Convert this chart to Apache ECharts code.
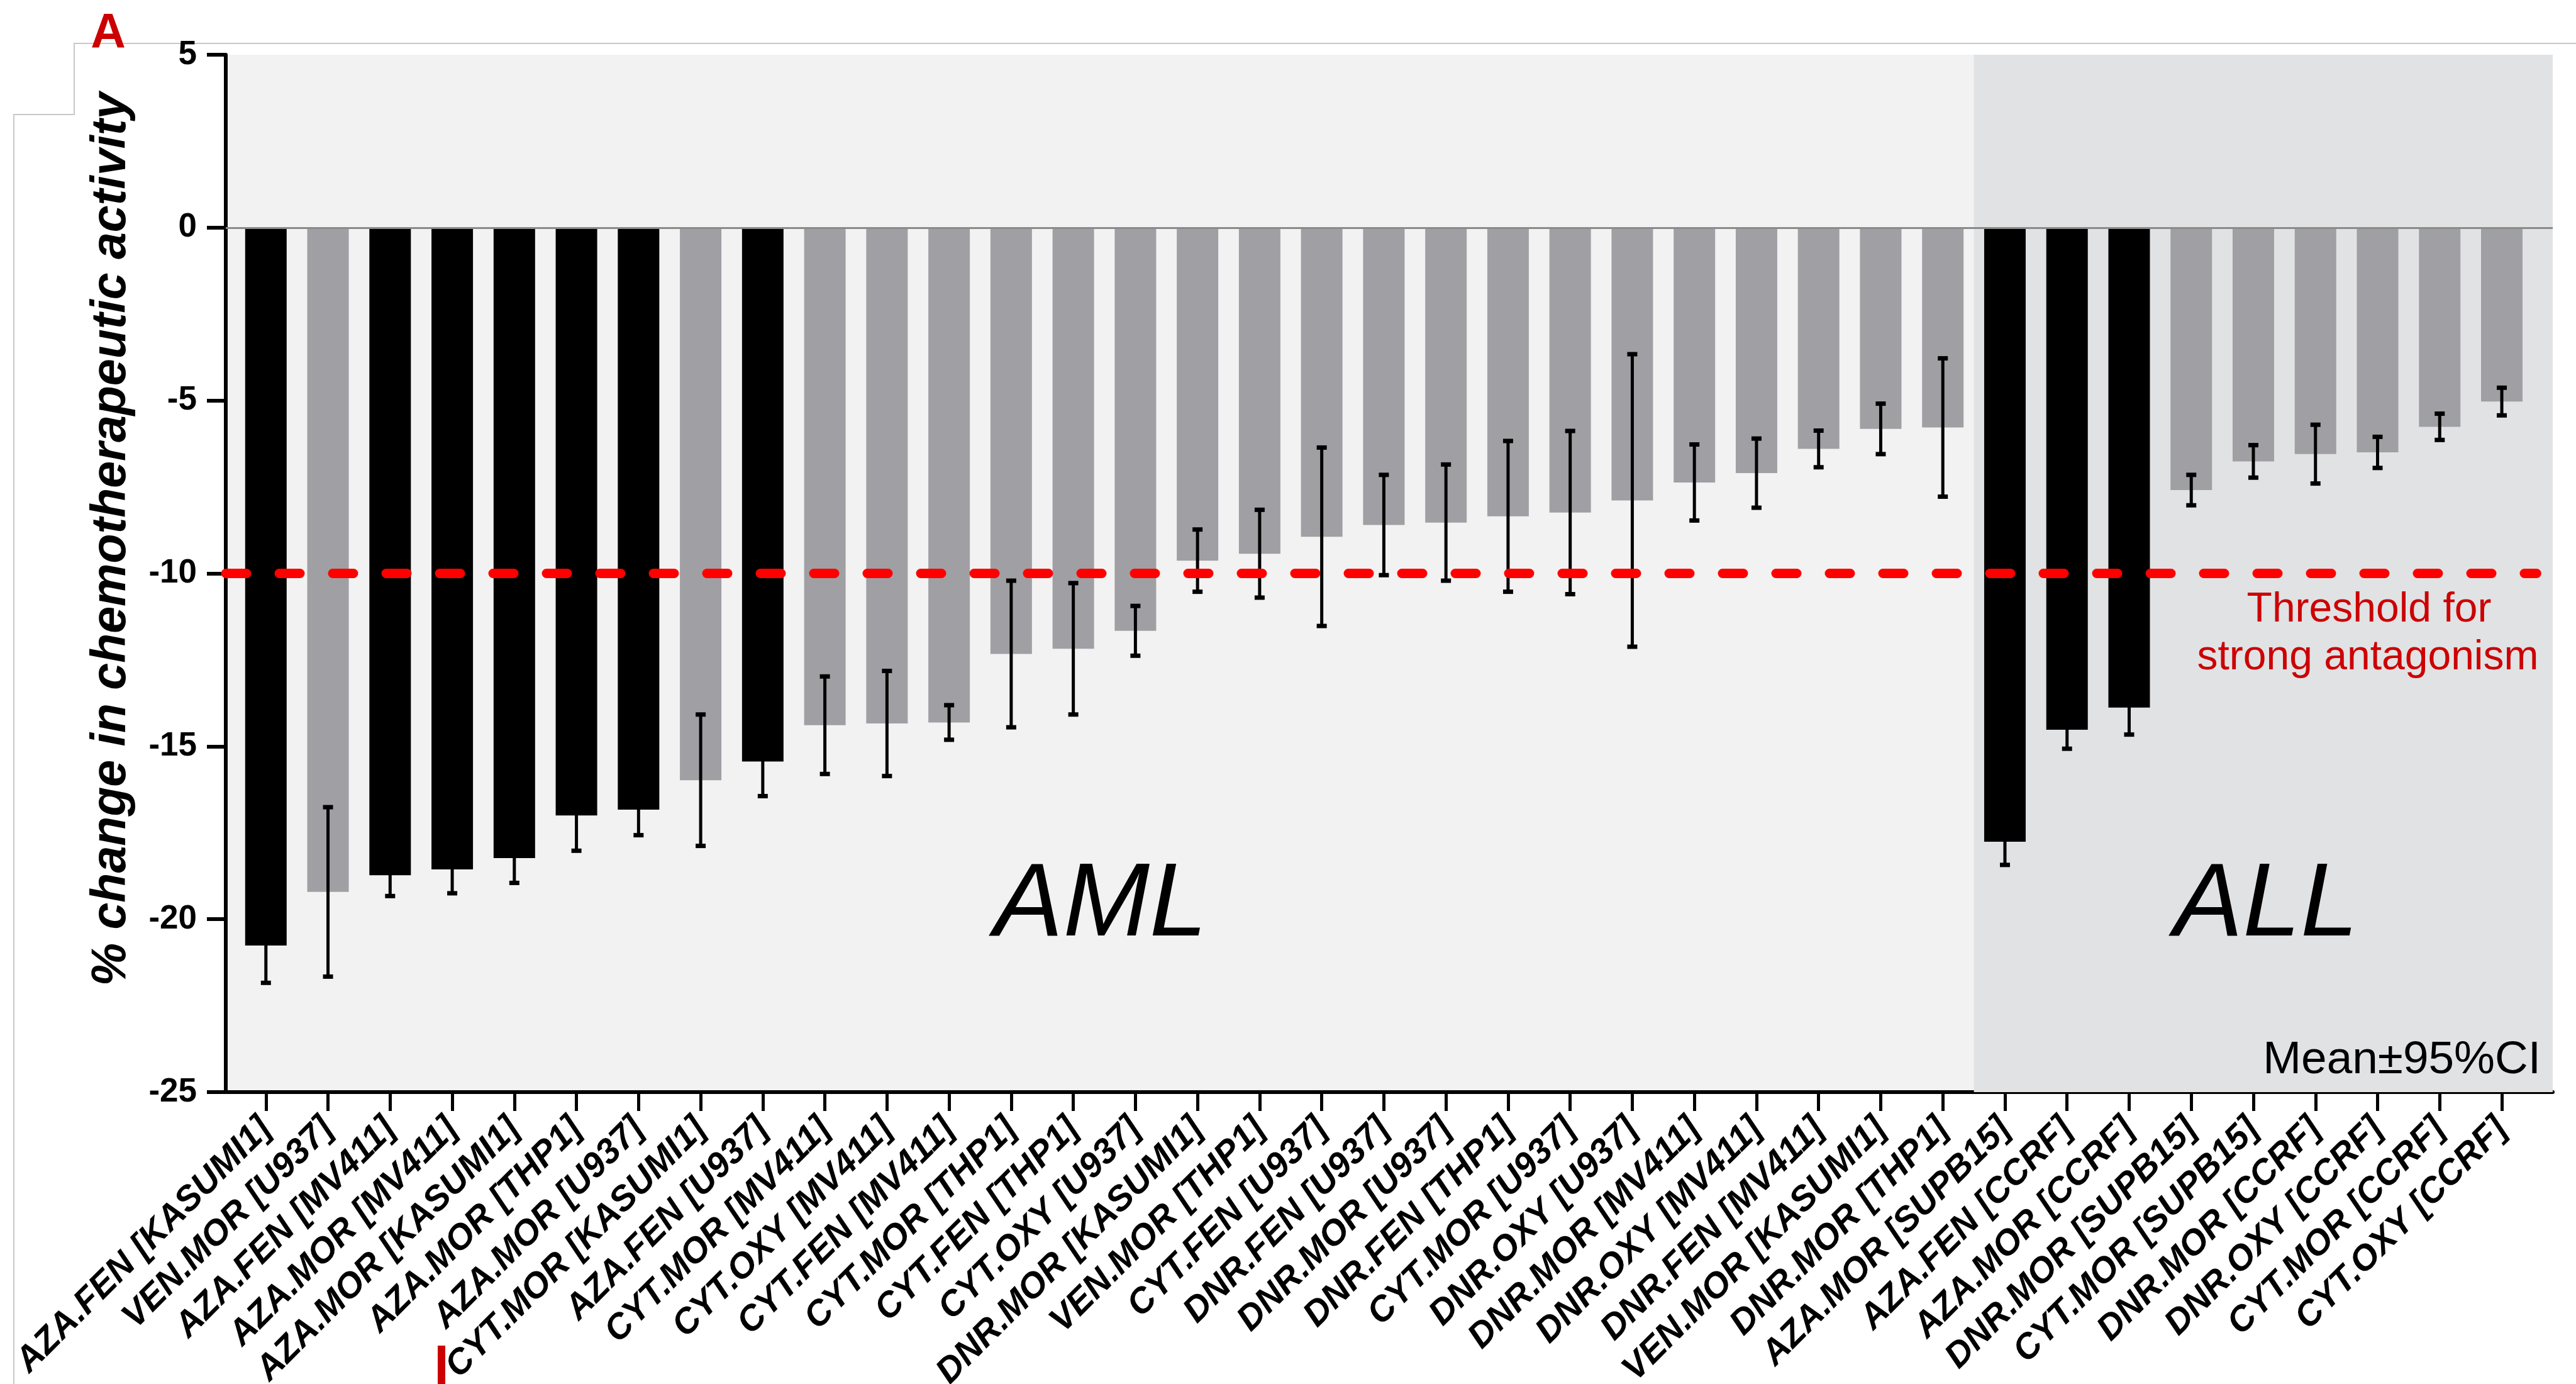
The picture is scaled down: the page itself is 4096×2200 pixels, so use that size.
<!DOCTYPE html>
<html lang="en">

<head>
  <meta charset="UTF-8">
  <title>% change in chemotherapeutic activity</title>
  <style>
    * {
      margin: 0;
      padding: 0;
    }

    body {
      background: #fff;
    }

    #main {
      width: 4096px;
      height: 2200px;
    }
  </style>
</head>

<body>
  <div id="main"></div>
  <script src="https://cdn.jsdelivr.net/npm/echarts@6/dist/echarts.min.js"></script>
  <script>
    // drug combination [cell line]
    const categories = [
      'AZA.FEN [KASUMI1]', 'VEN.MOR [U937]', 'AZA.FEN [MV411]', 'AZA.MOR [MV411]', 'AZA.MOR [KASUMI1]',
      'AZA.MOR [THP1]', 'AZA.MOR [U937]', 'CYT.MOR [KASUMI1]', 'AZA.FEN [U937]', 'CYT.MOR [MV411]',
      'CYT.OXY [MV411]', 'CYT.FEN [MV411]', 'CYT.MOR [THP1]', 'CYT.FEN [THP1]', 'CYT.OXY [U937]',
      'DNR.MOR [KASUMI1]', 'VEN.MOR [THP1]', 'CYT.FEN [U937]', 'DNR.FEN [U937]', 'DNR.MOR [U937]',
      'DNR.FEN [THP1]', 'CYT.MOR [U937]', 'DNR.OXY [U937]', 'DNR.MOR [MV411]', 'DNR.OXY [MV411]',
      'DNR.FEN [MV411]', 'VEN.MOR [KASUMI1]', 'DNR.MOR [THP1]',
      'AZA.MOR [SUPB15]', 'AZA.FEN [CCRF]', 'AZA.MOR [CCRF]', 'DNR.MOR [SUPB15]', 'CYT.MOR [SUPB15]',
      'DNR.MOR [CCRF]', 'DNR.OXY [CCRF]', 'CYT.MOR [CCRF]', 'CYT.OXY [CCRF]'
    ]
    // mean % change
    const means = [
      -20.76, -19.21, -18.73, -18.56, -18.23, -17.00, -16.83, -15.98, -15.44, -14.39,
      -14.34, -14.31, -12.33, -12.18, -11.66, -9.63, -9.43, -8.94, -8.60, -8.53,
      -8.35, -8.24, -7.89, -7.37, -7.10, -6.40, -5.82, -5.78,
      -17.76, -14.52, -13.88, -7.59, -6.76, -6.55, -6.50, -5.76, -5.03
    ]
    // half width of the 95% CI
    const ci95 = [
      1.08, 2.45, 0.60, 0.69, 0.72, 1.02, 0.74, 1.90, 1.00, 1.41,
      1.52, 0.50, 2.12, 1.90, 0.72, 0.90, 1.27, 2.58, 1.45, 1.68,
      2.18, 2.36, 4.23, 1.10, 1.00, 0.53, 0.73, 2.00,
      0.67, 0.55, 0.78, 0.44, 0.47, 0.85, 0.45, 0.38, 0.40
    ]
    const allStart = 28 // first ALL cell line
    const threshold = -10
    const groupLabels = ['AML', 'ALL']

    const font = "'Liberation Sans', Arial, sans-serif"
    const xMin = -0.646
    const xMax = 36.82
    const tickIdx = categories.map((c, i) => i)

    const barData = means.map((v, i) => [i, v])
    const errData = means.map((v, i) => [i, v - ci95[i], v + ci95[i]])

    const chart = echarts.init(document.getElementById('main'))
    const option = {
      animation: false,
      backgroundColor: '#fff',
      grid: {
        left: 359,
        right: 37,
        top: 87,
        bottom: 464,
        show: true,
        backgroundColor: '#f2f2f2',
        borderWidth: 0,
        outerBoundsMode: 'none'
      },
      xAxis: {
        type: 'value',
        min: xMin,
        max: xMax,
        axisLine: { show: true, onZero: false, lineStyle: { color: '#000', width: 6 } },
        axisTick: { show: true, customValues: tickIdx, length: 30, lineStyle: { color: '#000', width: 5 } },
        axisLabel: {
          customValues: tickIdx,
          formatter: v => categories[v],
          rotate: 45,
          margin: 50,
          fontSize: 56,
          fontStyle: 'italic',
          fontWeight: 'bold',
          fontFamily: font,
          color: '#000'
        },
        splitLine: { show: false }
      },
      yAxis: {
        type: 'value',
        min: -25,
        max: 5,
        interval: 5,
        axisLine: { show: true, onZero: false, lineStyle: { color: '#000', width: 6 } },
        axisTick: { show: true, length: 30, lineStyle: { color: '#000', width: 6 } },
        axisLabel: { fontSize: 53, fontWeight: 'bold', fontFamily: font, color: '#000', margin: 46 },
        splitLine: { show: false }
      },
      series: [
        {
          // ALL background
          type: 'line',
          data: [],
          z: 0,
          silent: true,
          markArea: {
            silent: true,
            itemStyle: { color: '#e1e2e4' },
            data: [[{ xAxis: allStart - 0.5 }, { xAxis: xMax }]]
          }
        },
        {
          name: 'mean',
          type: 'bar',
          data: barData,
          barWidth: 66,
          z: 2,
          itemStyle: {
            color: p => categories[p.dataIndex].startsWith('AZA') ? '#000' : '#a09fa4'
          }
        },
        {
          // zero line + threshold
          type: 'line',
          data: [],
          z: 3,
          silent: true,
          markLine: {
            silent: true,
            symbol: 'none',
            label: { show: false },
            data: [
              [
                { coord: [xMin, 0], lineStyle: { color: '#8a8a8a', width: 3, type: 'solid' } },
                { coord: [xMax, 0] }
              ],
              [
                { coord: [xMin, threshold], lineStyle: { color: '#ff0000', width: 15, type: [33, 52], cap: 'round' } },
                { coord: [36.56, threshold] }
              ]
            ]
          }
        },
        {
          name: '95% CI',
          type: 'custom',
          data: errData,
          z: 4,
          renderItem(params, api) {
            const x = api.value(0)
            const lo = api.coord([x, api.value(1)])
            const hi = api.coord([x, api.value(2)])
            const cap = 16
            const st = { stroke: '#000', lineWidth: 5 }
            return {
              type: 'group',
              children: [
                { type: 'line', shape: { x1: lo[0], y1: lo[1], x2: hi[0], y2: hi[1] }, style: st },
                { type: 'line', shape: { x1: lo[0] - cap / 2, y1: lo[1], x2: lo[0] + cap / 2, y2: lo[1] }, style: { stroke: '#000', lineWidth: 7 } },
                { type: 'line', shape: { x1: hi[0] - cap / 2, y1: hi[1], x2: hi[0] + cap / 2, y2: hi[1] }, style: { stroke: '#000', lineWidth: 7 } }
              ]
            }
          }
        }
      ],
      graphic: [
        {
          type: 'polyline',
          z: -1,
          shape: { points: [[4096, 69], [118, 69], [118, 182], [22, 182], [22, 2200]] },
          style: { stroke: '#c8c8c8', lineWidth: 2, fill: null }
        },
        {
          type: 'rect',
          shape: { x: 696, y: 2139, width: 12, height: 61 },
          style: { fill: '#cc0000' }
        },
        {
          type: 'text', z: 100, x: 172, y: 55,
          style: { text: 'A', fill: '#cc0000', font: `bold 77px ${font}`, align: 'center', verticalAlign: 'middle' }
        },
        {
          type: 'text', z: 100, x: 178, y: 857, rotation: Math.PI / 2,
          style: {
            text: '% change in chemotherapeutic activity', fill: '#000',
            font: `italic bold 77px ${font}`, align: 'center', verticalAlign: 'middle'
          }
        },
        {
          type: 'text', z: 100, x: 1750, y: 1441,
          style: { text: groupLabels[0], fill: '#000', font: `italic 165px ${font}`, align: 'center', verticalAlign: 'middle' }
        },
        {
          type: 'text', z: 100, x: 3603, y: 1441,
          style: { text: groupLabels[1], fill: '#000', font: `italic 165px ${font}`, align: 'center', verticalAlign: 'middle' }
        },
        {
          type: 'text', z: 100, x: 3767, y: 970,
          style: { text: 'Threshold for', fill: '#cc0000', font: `66px ${font}`, align: 'center', verticalAlign: 'middle' }
        },
        {
          type: 'text', z: 100, x: 3765, y: 1046,
          style: { text: 'strong antagonism', fill: '#cc0000', font: `66px ${font}`, align: 'center', verticalAlign: 'middle' }
        },
        {
          type: 'text', z: 100, x: 4040, y: 1686,
          style: { text: 'Mean±95%CI', fill: '#000', font: `73px ${font}`, align: 'right', verticalAlign: 'middle' }
        }
      ]
    }
    chart.setOption(option)
  </script>
</body>

</html>
